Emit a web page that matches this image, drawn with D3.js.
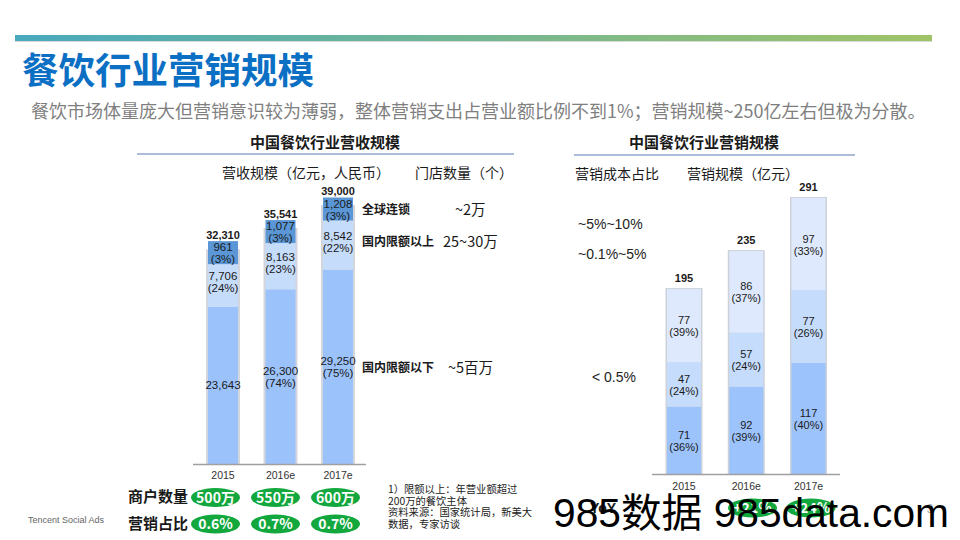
<!DOCTYPE html>
<html>
<head>
<meta charset="utf-8">
<script src="https://cdn.jsdelivr.net/npm/d3@7"></script>
<style>
  body { margin: 0; background: #fff; }
  svg { display: block; font-family: "Liberation Sans", Arial, "Noto Sans CJK SC", sans-serif; }
  .cn { font-family: "Noto Sans CJK SC", sans-serif; }
</style>
</head>
<body>
<div class="container"></div>
<script>
// data
var years = ["2015", "2016e", "2017e"];

// left: revenue (亿元)
var revBelow = [23643, 26300, 29250];
var revBelowPct = [null, "74%", "75%"];
var revAbove = [7706, 8163, 8542];
var revAbovePct = ["24%", "23%", "22%"];
var revChain = [961, 1077, 1208];
var revChainPct = ["3%", "3%", "3%"];
var revTotal = [32310, 35541, 39000];
var merchants = ["500万", "550万", "600万"];
var mktShare = ["0.6%", "0.7%", "0.7%"];

// right: marketing size (亿元)
var mktLow = [71, 92, 117];
var mktLowPct = ["36%", "39%", "40%"];
var mktMid = [47, 57, 77];
var mktMidPct = ["24%", "24%", "26%"];
var mktHigh = [77, 86, 97];
var mktHighPct = ["39%", "37%", "33%"];
var mktTotal = [195, 235, 291];
var yoy = [null, "+21%", "+24%"];

var width = 960, height = 540;
var svg = d3.select(".container").append("svg")
    .attr("width", width).attr("height", height);

// header gradient bar
var grad = svg.append("defs").append("linearGradient").attr("id", "hdr");
grad.append("stop").attr("offset", "0%").attr("stop-color", "#48a9bd");
grad.append("stop").attr("offset", "100%").attr("stop-color", "#9fc467");
svg.append("rect").attr("x", 15).attr("y", 35).attr("width", 917).attr("height", 6).attr("fill", "url(#hdr)");
svg.append("rect").attr("x", 15).attr("y", 41).attr("width", 917).attr("height", 1).attr("fill", "#d9d9d9");

svg.append("text").attr("class", "cn").attr("x", 22).attr("y", 84)
    .attr("font-size", 36.5).attr("font-weight", "bold").attr("fill", "#0b6fc4")
    .text("餐饮行业营销规模");
svg.append("text").attr("class", "cn").attr("x", 31).attr("y", 118)
    .attr("font-size", 18).attr("fill", "#7f7f7f")
    .text("餐饮市场体量庞大但营销意识较为薄弱，整体营销支出占营业额比例不到1%；营销规模~250亿左右但极为分散。");

svg.append("text").attr("x", 28).attr("y", 523).attr("font-size", 9).attr("fill", "#666")
    .text("Tencent Social Ads");

function txt(x, y, s, size, opts) {
    opts = opts || {};
    return svg.append("text").attr("class", opts.cn ? "cn" : null)
        .attr("x", x).attr("y", y).attr("font-size", size)
        .attr("font-weight", opts.bold ? "bold" : null)
        .attr("text-anchor", opts.anchor || "start")
        .attr("fill", opts.fill || "#1a1a1a")
        .text(s);
}

// ---------- LEFT CHART ----------
txt(325, 148, "中国餐饮行业营收规模", 15, {cn: true, bold: true, anchor: "middle"});
svg.append("line").attr("x1", 137).attr("x2", 514).attr("y1", 154).attr("y2", 154)
    .attr("stroke", "#5a78b0").attr("stroke-width", 1.2);
txt(222, 178, "营收规模（亿元，人民币）", 14, {cn: true});
txt(415, 178, "门店数量（个）", 14, {cn: true});

var xL = d3.scalePoint().domain(years).range([223, 338]);
var yL = d3.scaleLinear().domain([0, 39000]).range([464, 205]);
var bwL = 32;

var leftRows = years.map(function(y, i) {
    return {year: y, below: revBelow[i], above: revAbove[i], chain: revChain[i]};
});
var stackL = d3.stack().keys(["below", "above", "chain"])(leftRows);
var colL = {below: "#9cc2fb", above: "#c6dcfb"};

var gL = svg.append("g");
// bar outlines
gL.selectAll("rect.outline").data(leftRows).enter().append("rect")
    .attr("x", function(d) { return xL(d.year) - bwL / 2 - 1; })
    .attr("y", function(d, i) { return yL(revTotal[i]); })
    .attr("width", bwL + 2)
    .attr("height", function(d, i) { return yL(0) - yL(revTotal[i]); })
    .attr("fill", "#d3d7dd");

stackL.slice(0, 2).forEach(function(layer) {
    gL.selectAll(null).data(layer).enter().append("rect")
        .attr("x", function(d) { return xL(d.data.year) - bwL / 2 + 1; })
        .attr("y", function(d) { return yL(d[1]); })
        .attr("width", bwL - 2)
        .attr("height", function(d) { return yL(d[0]) - yL(d[1]); })
        .attr("fill", colL[layer.key]);
});
// chain segment shown as a fixed-size box centred on its slice
var chainLayer = stackL[2];
gL.selectAll(null).data(chainLayer).enter().append("rect")
    .attr("x", function(d) { return xL(d.data.year) - bwL / 2 + 1; })
    .attr("y", function(d) { return (yL(d[0]) + yL(d[1])) / 2 - 11.5; })
    .attr("width", bwL - 2).attr("height", 23)
    .attr("fill", "#5b97d6");

function twoLine(x, yc, a, b, size) {
    if (b) {
        txt(x, yc - 1.5, a, size, {anchor: "middle"});
        txt(x, yc + 10.5, "(" + b + ")", size, {anchor: "middle"});
    } else {
        txt(x, yc + 4, a, size, {anchor: "middle"});
    }
}
var fmt = d3.format(",");
stackL[0].forEach(function(d, i) {
    twoLine(xL(d.data.year), (yL(d[0]) + yL(d[1])) / 2, fmt(revBelow[i]), revBelowPct[i], 11.5);
});
stackL[1].forEach(function(d, i) {
    twoLine(xL(d.data.year), (yL(d[0]) + yL(d[1])) / 2, fmt(revAbove[i]), revAbovePct[i], 11.5);
});
stackL[2].forEach(function(d, i) {
    var yc = (yL(d[0]) + yL(d[1])) / 2;
    twoLine(xL(d.data.year), yc, fmt(revChain[i]), revChainPct[i], 11.5);
    txt(xL(d.data.year), yc - 14, fmt(revTotal[i]), 11, {bold: true, anchor: "middle"});
});

svg.append("line").attr("x1", 193).attr("x2", 366).attr("y1", 464.5).attr("y2", 464.5)
    .attr("stroke", "#a0a0a0").attr("stroke-width", 1.5);
years.forEach(function(y) { txt(xL(y), 479, y, 10.5, {anchor: "middle", fill: "#333"}); });

// segment notes on the right of the last bar
var lastL = years.length - 1;
var segNotes = [
    {label: "国内限额以下", value: "~5百万", layer: 0, vx: 448},
    {label: "国内限额以上", value: "25~30万", layer: 1, vx: 443},
    {label: "全球连锁", value: "~2万", layer: 2, vx: 455}
];
segNotes.forEach(function(n) {
    var d = stackL[n.layer][lastL];
    var yc = (yL(d[0]) + yL(d[1])) / 2;
    txt(362, yc + 5, n.label, 12, {cn: true, bold: true});
    txt(n.vx, yc + 6, n.value, 14.5, {cn: true});
});

// merchant count / marketing share pills
var xPill = d3.scalePoint().domain(years).range([215.5, 335.5]);
txt(128, 502, "商户数量", 15, {cn: true, bold: true});
txt(128, 529, "营销占比", 15, {cn: true, bold: true});
function pills(vals, cy, xs) {
    years.forEach(function(y, i) {
        if (!vals[i]) return;
        svg.append("ellipse").attr("cx", xs(y)).attr("cy", cy).attr("rx", 24.5).attr("ry", 9.5)
            .attr("fill", "#12a83e");
        txt(xs(y), cy + 5, vals[i], 14, {cn: true, bold: true, anchor: "middle", fill: "#fff"});
    });
}
pills(merchants, 497.5, xPill);
pills(mktShare, 524, xPill);

["1）限额以上：年营业额超过", "200万的餐饮主体", "资料来源：国家统计局，新美大", "数据，专家访谈"]
    .forEach(function(s, i) { txt(388, 493 + i * 11.5, s, 10.3, {cn: true, fill: "#222"}); });

// ---------- RIGHT CHART ----------
txt(704, 148, "中国餐饮行业营销规模", 15, {cn: true, bold: true, anchor: "middle"});
svg.append("line").attr("x1", 574).attr("x2", 855).attr("y1", 155).attr("y2", 155)
    .attr("stroke", "#5a78b0").attr("stroke-width", 1.2);
txt(575, 179, "营销成本占比", 14, {cn: true});
txt(687, 179, "营销规模（亿元）", 14, {cn: true});
txt(578, 229, "~5%~10%", 14, {fill: "#222"});
txt(578, 259, "~0.1%~5%", 14, {fill: "#222"});
txt(592, 382, "< 0.5%", 14, {fill: "#222"});

var xR = d3.scalePoint().domain(years).range([684, 808.5]);
var yR = d3.scaleLinear().domain([0, 291]).range([474, 198]);
var bwR = 35;
var rightRows = years.map(function(y, i) {
    return {year: y, low: mktLow[i], mid: mktMid[i], high: mktHigh[i]};
});
var stackR = d3.stack().keys(["low", "mid", "high"])(rightRows);
var colR = {low: "#9dc3fd", mid: "#c5dcfc", high: "#dee9fd"};
var pctR = {low: mktLowPct, mid: mktMidPct, high: mktHighPct};

var gR = svg.append("g");
gR.selectAll(null).data(rightRows).enter().append("rect")
    .attr("x", function(d) { return xR(d.year) - bwR / 2 - 1; })
    .attr("y", function(d, i) { return yR(mktTotal[i]) - 1; })
    .attr("width", bwR + 2)
    .attr("height", function(d, i) { return yR(0) - yR(mktTotal[i]) + 1; })
    .attr("fill", "#cdd2da");
stackR.forEach(function(layer) {
    gR.selectAll(null).data(layer).enter().append("rect")
        .attr("x", function(d) { return xR(d.data.year) - bwR / 2 + 0.5; })
        .attr("y", function(d) { return yR(d[1]); })
        .attr("width", bwR - 1)
        .attr("height", function(d) { return yR(d[0]) - yR(d[1]); })
        .attr("fill", colR[layer.key]);
    layer.forEach(function(d, i) {
        twoLine(xR(d.data.year), (yR(d[0]) + yR(d[1])) / 2, String(d.data[layer.key]), pctR[layer.key][i], 11);
    });
});
years.forEach(function(y, i) {
    txt(xR(y), yR(mktTotal[i]) - 7, String(mktTotal[i]), 11, {bold: true, anchor: "middle"});
    txt(xR(y), 490, y, 10.5, {anchor: "middle", fill: "#333"});
});
svg.append("line").attr("x1", 652).attr("x2", 840).attr("y1", 474.5).attr("y2", 474.5)
    .attr("stroke", "#a0a0a0").attr("stroke-width", 1.5);

txt(590, 513, "YoY", 14, {bold: true});
var xYoy = d3.scalePoint().domain(years).range([694, 811]);
pills(yoy, 508, xYoy);

txt(930, 513, "3", 12, {fill: "#aaa", anchor: "middle"});

// watermark
svg.append("text").attr("x", 553).attr("y", 527).attr("font-size", 40)
    .attr("textLength", 396).attr("lengthAdjust", "spacingAndGlyphs")
    .attr("fill", "#000").text("985数据 985data.com");
</script>
</body>
</html>
